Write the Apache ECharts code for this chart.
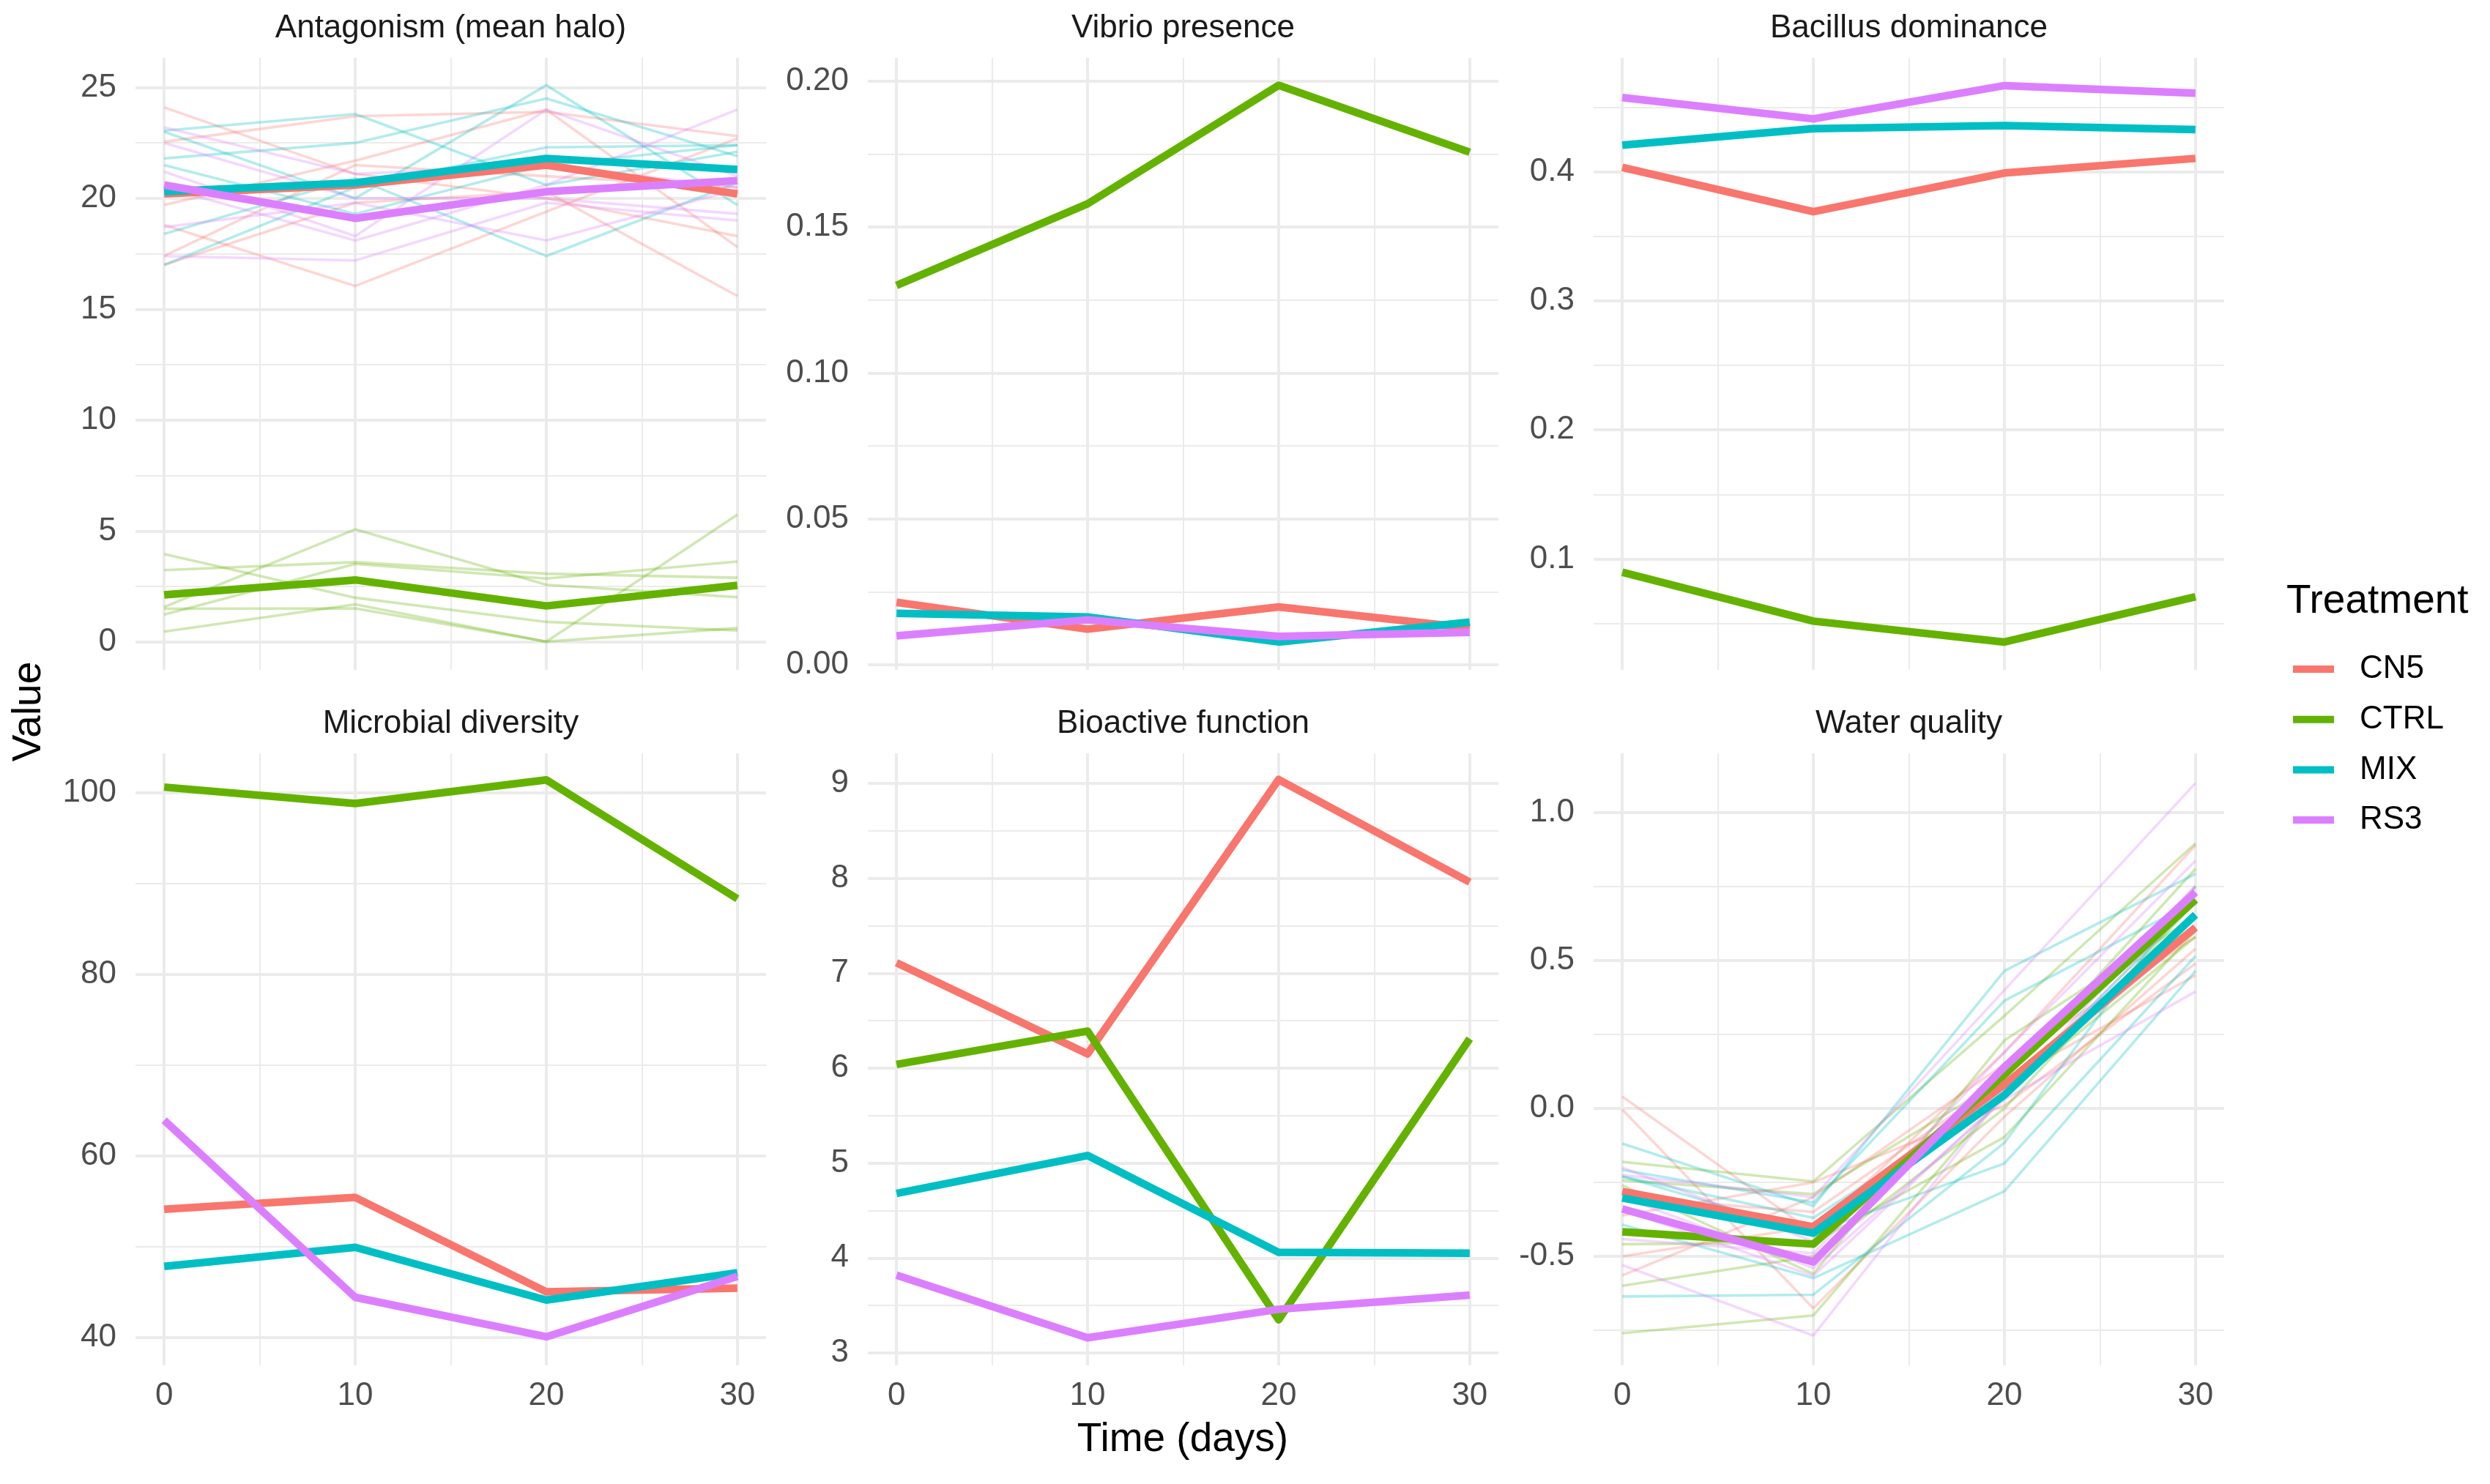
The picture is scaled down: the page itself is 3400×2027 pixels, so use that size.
<!DOCTYPE html>
<html>
<head>
<meta charset="utf-8">
<script src="https://cdn.jsdelivr.net/npm/echarts@6/dist/echarts.min.js"></script>
<style>
html,body{margin:0;padding:0;background:#ffffff;}
#c{width:3400px;height:2027px;}
</style>
</head>
<body>
<div id="c"></div>
<script>
// ---------------- DATA ----------------
const days = [0, 10, 20, 30];
const treatments = ['CN5', 'CTRL', 'MIX', 'RS3'];
const panelTitles = ['Antagonism (mean halo)', 'Vibrio presence', 'Bacillus dominance',
                     'Microbial diversity', 'Bioactive function', 'Water quality'];
const xTicks = [0, 10, 20, 30];
const xMinorTicks = [5, 15, 25];

// y tick labels per panel
const yTicksAntagonism = [0, 5, 10, 15, 20, 25];
const yTicksVibrio = [0, 0.05, 0.10, 0.15, 0.20];
const yTicksBacillus = [0.1, 0.2, 0.3, 0.4];
const yTicksDiversity = [40, 60, 80, 100];
const yTicksBioactive = [3, 4, 5, 6, 7, 8, 9];
const yTicksWater = [-0.5, 0.0, 0.5, 1.0];

// Treatment means
const antagonismCN5 = [20.2, 20.6, 21.5, 20.2];
const antagonismCTRL = [2.13, 2.8, 1.63, 2.56];
const antagonismMIX = [20.3, 20.7, 21.8, 21.3];
const antagonismRS3 = [20.6, 19.1, 20.3, 20.8];

const vibrioCN5 = [0.0214, 0.0122, 0.0198, 0.0126];
const vibrioCTRL = [0.130, 0.158, 0.1986, 0.1757];
const vibrioMIX = [0.0176, 0.0164, 0.0078, 0.0146];
const vibrioRS3 = [0.0099, 0.0154, 0.0097, 0.0111];

const bacillusCN5 = [0.4034, 0.369, 0.399, 0.4103];
const bacillusCTRL = [0.0897, 0.0519, 0.0357, 0.0708];
const bacillusMIX = [0.4206, 0.4333, 0.4357, 0.4326];
const bacillusRS3 = [0.4574, 0.4409, 0.4667, 0.4608];

const diversityCN5 = [54.1, 55.4, 45.0, 45.4];
const diversityCTRL = [100.6, 98.8, 101.4, 88.3];
const diversityMIX = [47.8, 49.9, 44.1, 47.1];
const diversityRS3 = [63.9, 44.4, 40.05, 46.7];

const bioactiveCN5 = [7.11, 6.15, 9.04, 7.96];
const bioactiveCTRL = [6.04, 6.39, 3.35, 6.31];
const bioactiveMIX = [4.68, 5.08, 4.06, 4.05];
const bioactiveRS3 = [3.82, 3.16, 3.46, 3.61];

const waterCN5 = [-0.281, -0.400, 0.08, 0.612];
const waterCTRL = [-0.417, -0.459, 0.115, 0.706];
const waterMIX = [-0.303, -0.422, 0.045, 0.655];
const waterRS3 = [-0.34, -0.519, 0.14, 0.731];

// Replicate (tank) trajectories
const antagonismRepCN5 = [[24.1, 21.1, 20.0, 18.3], [22.55, 23.7, 23.9, 22.8], [19.7, 21.7, 24.0, 17.8],
                          [18.8, 16.05, 19.4, 22.7], [17.4, 21.5, 21.0, 20.5], [17.0, 19.8, 20.3, 15.6]];
const antagonismRepCTRL = [[3.97, 2.0, 0.91, 0.52], [3.24, 3.6, 3.08, 2.9], [1.58, 5.08, 2.58, 2.02],
                           [1.24, 3.52, 2.86, 3.63], [0.47, 1.7, 0.02, 5.74], [1.5, 1.52, 0.02, 0.63]];
const antagonismRepMIX = [[23.05, 23.8, 20.6, 22.1], [23.0, 20.0, 25.1, 19.7], [21.8, 22.5, 24.5, 21.9],
                          [21.5, 19.3, 21.5, 22.4], [18.4, 20.9, 17.4, 20.7], [17.0, 20.5, 22.3, 22.4]];
const antagonismRepRS3 = [[23.2, 21.1, 21.5, 20.5], [21.2, 18.3, 24.0, 21.0], [20.5, 18.1, 20.6, 24.0],
                          [17.4, 17.2, 19.8, 19.0], [18.7, 19.8, 18.1, 20.4], [22.5, 20.0, 20.0, 19.3]];

const waterRepCN5 = [[0.04, -0.42, 0.19, 0.89], [-0.004, -0.676, -0.028, 0.54], [-0.362, -0.25, 0.01, 0.49],
                     [-0.565, -0.30, 0.15, 0.58], [-0.30, -0.35, 0.10, 0.75], [-0.50, -0.40, 0.09, 0.45]];
const waterRepCTRL = [[-0.181, -0.247, 0.313, 0.896], [-0.243, -0.29, 0.10, 0.81], [-0.459, -0.455, -0.097, 0.60],
                      [-0.60, -0.50, 0.0, 0.70], [-0.76, -0.70, 0.05, 0.58], [-0.26, -0.56, 0.23, 0.65]];
const waterRepMIX = [[-0.119, -0.33, 0.465, 0.793], [-0.208, -0.318, 0.364, 0.70], [-0.23, -0.42, -0.186, 0.515],
                     [-0.393, -0.574, -0.28, 0.465], [-0.636, -0.63, -0.116, 0.75], [-0.23, -0.37, 0.05, 0.70]];
const waterRepRS3 = [[-0.225, -0.30, 0.40, 1.10], [-0.442, -0.49, 0.19, 0.837], [-0.53, -0.768, 0.05, 0.70],
                     [-0.30, -0.54, 0.03, 0.395], [-0.20, -0.45, 0.06, 0.60], [-0.343, -0.566, 0.04, 0.754]];

// ---------------- STYLE / LAYOUT ----------------
const colors = {CN5: '#F8766D', CTRL: '#64B200', MIX: '#00BFC4', RS3: '#DC7FFF'};
const FONT = '"Liberation Sans", Arial, Helvetica, sans-serif';
const gridLefts = [185, 1185, 2176];
const gridTops = [79, 1029];
const gridW = 861, gridH = 836;
const xLimits = [-1.5, 31.5];
const yLimits = [[-1.254, 26.333], [-0.00176, 0.20803], [0.0141, 0.4882],
                 [36.9, 104.32], [2.869, 9.316], [-0.869, 1.2005]];
const yDecimals = [0, 2, 1, 0, 0, 1];

const panelMeans = [
  [antagonismCN5, antagonismCTRL, antagonismMIX, antagonismRS3],
  [vibrioCN5, vibrioCTRL, vibrioMIX, vibrioRS3],
  [bacillusCN5, bacillusCTRL, bacillusMIX, bacillusRS3],
  [diversityCN5, diversityCTRL, diversityMIX, diversityRS3],
  [bioactiveCN5, bioactiveCTRL, bioactiveMIX, bioactiveRS3],
  [waterCN5, waterCTRL, waterMIX, waterRS3]
];
const panelReps = {
  0: [antagonismRepCN5, antagonismRepCTRL, antagonismRepMIX, antagonismRepRS3],
  5: [waterRepCN5, waterRepCTRL, waterRepMIX, waterRepRS3]
};
const panelYTicks = [yTicksAntagonism, yTicksVibrio, yTicksBacillus, yTicksDiversity, yTicksBioactive, yTicksWater];

function minorOf(ticks, lim) {
  const step = ticks[1] - ticks[0];
  const out = [];
  for (let v = ticks[0] - step / 2; v <= lim[1]; v += step) {
    if (v >= lim[0]) out.push(+v.toFixed(6));
  }
  return out;
}

const grids = [], xAxes = [], yAxes = [], series = [], graphics = [];
const gridColor = '#EBEBEB';

for (let p = 0; p < 6; p++) {
  const row = Math.floor(p / 3), col = p % 3;
  const left = gridLefts[col], top = gridTops[row];
  grids.push({left: left, top: top, width: gridW, height: gridH, containLabel: false});
  const showX = row === 1;
  // major x
  xAxes.push({
    gridIndex: p, type: 'value', min: xLimits[0], max: xLimits[1],
    axisLine: {show: false}, axisTick: {show: false, customValues: xTicks},
    axisLabel: {show: showX, customValues: xTicks, margin: 20, fontSize: 44, color: '#4D4D4D', fontFamily: FONT},
    splitLine: {show: true, lineStyle: {color: gridColor, width: 4}}
  });
  // minor x
  xAxes.push({
    gridIndex: p, type: 'value', min: xLimits[0], max: xLimits[1],
    axisLine: {show: false}, axisTick: {show: false, customValues: xMinorTicks},
    axisLabel: {show: false, customValues: xMinorTicks},
    splitLine: {show: true, lineStyle: {color: gridColor, width: 2}}
  });
  const yt = panelYTicks[p];
  const dec = yDecimals[p];
  yAxes.push({
    gridIndex: p, type: 'value', position: 'left', min: yLimits[p][0], max: yLimits[p][1],
    axisLine: {show: false}, axisTick: {show: false, customValues: yt},
    axisLabel: {show: true, customValues: yt, margin: 26, fontSize: 44, color: '#4D4D4D', fontFamily: FONT,
                formatter: function (v) { return Number(v).toFixed(dec); }},
    splitLine: {show: true, lineStyle: {color: gridColor, width: 4}}
  });
  const ym = minorOf(yt, yLimits[p]);
  yAxes.push({
    gridIndex: p, type: 'value', position: 'left', min: yLimits[p][0], max: yLimits[p][1],
    axisLine: {show: false}, axisTick: {show: false, customValues: ym},
    axisLabel: {show: false, customValues: ym},
    splitLine: {show: true, lineStyle: {color: gridColor, width: 2}}
  });

  // strip title
  graphics.push({
    type: 'text', x: left + gridW / 2, y: top - 40,
    style: {text: panelTitles[p], font: '44px ' + FONT, fill: '#1A1A1A',
            textAlign: 'center', textVerticalAlign: 'middle', align: 'center', verticalAlign: 'middle'}
  });

  // replicate lines
  const reps = panelReps[p];
  if (reps) {
    treatments.forEach(function (t, ti) {
      reps[ti].forEach(function (vals, ri) {
        series.push({
          type: 'line', name: t + ' tank ' + (ri + 1), xAxisIndex: 2 * p, yAxisIndex: 2 * p,
          data: days.map(function (d, j) { return [d, vals[j]]; }),
          symbol: 'none', silent: true, z: 2,
          lineStyle: {color: colors[t], width: 3.6, opacity: 0.3},
          itemStyle: {color: colors[t]}, emphasis: {disabled: true}
        });
      });
    });
  }
  // mean lines
  treatments.forEach(function (t, ti) {
    const vals = panelMeans[p][ti];
    series.push({
      type: 'line', name: t, xAxisIndex: 2 * p, yAxisIndex: 2 * p,
      data: days.map(function (d, j) { return [d, vals[j]]; }),
      symbol: 'none', silent: true, z: 3,
      lineStyle: {color: colors[t], width: 10.5, opacity: 1, join: 'round'},
      itemStyle: {color: colors[t]}, emphasis: {disabled: true}
    });
  });
}

// axis titles
graphics.push({
  type: 'text', x: 1615, y: 1967,
  style: {text: 'Time (days)', font: '55px ' + FONT, fill: '#000000',
          textAlign: 'center', textVerticalAlign: 'middle', align: 'center', verticalAlign: 'middle'}
});
graphics.push({
  type: 'text', x: 40, y: 972, rotation: Math.PI / 2,
  style: {text: 'Value', font: '55px ' + FONT, fill: '#000000',
          textAlign: 'center', textVerticalAlign: 'middle', align: 'center', verticalAlign: 'middle'}
});
graphics.push({
  type: 'text', x: 3122, y: 822,
  style: {text: 'Treatment', font: '55px ' + FONT, fill: '#000000',
          textAlign: 'left', textVerticalAlign: 'middle', align: 'left', verticalAlign: 'middle'}
});

const option = {
  animation: false,
  backgroundColor: '#ffffff',
  grid: grids,
  xAxis: xAxes,
  yAxis: yAxes,
  legend: {
    data: treatments, orient: 'vertical', left: 3126, top: 887,
    itemWidth: 56, itemHeight: 10, itemGap: 24.7, icon: 'rect',
    selectedMode: false,
    textStyle: {fontSize: 44, color: '#000000', fontFamily: FONT, lineHeight: 44, padding: [0, 0, 0, 30]}
  },
  graphic: graphics,
  series: series
};

const chart = echarts.init(document.getElementById('c'), null, {renderer: 'canvas', width: 3400, height: 2027});
chart.setOption(option);
</script>
</body>
</html>
